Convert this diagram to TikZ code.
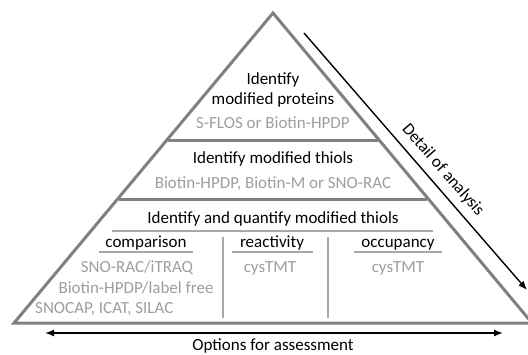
\documentclass[tikz,border=0pt]{standalone}
\usepackage{fontspec}
\setmainfont{Carlito}
\usepackage{xcolor}
\usetikzlibrary{arrows.meta,positioning,calc}
\definecolor{outlinegray}{HTML}{808080}
\definecolor{innergray}{HTML}{A8A8A8}
\definecolor{methodgray}{HTML}{9E9E9E}

\begin{document}
\begin{tikzpicture}[
    x=1pt,
    y=-1pt,
    >=Latex,
    level/.style={draw=outlinegray, line width=3pt},
    subline/.style={draw=innergray, line width=1.5pt},
    heading/.style={anchor=base, inner sep=0pt, text=black, font=\fontsize{17}{20}\selectfont},
    method/.style={anchor=base, inner sep=0pt, text=methodgray, font=\fontsize{17}{20}\selectfont},
    axis/.style={draw=black, line width=1.4pt, {Latex[length=9pt,width=7pt]}-{Latex[length=9pt,width=7pt]}}
]
\useasboundingbox (0,0) rectangle (528,354);
% pyramid and levels
\draw[level, line join=miter] (273,13) -- (14,323) -- (532,323) -- cycle;
\draw[level] (168,140) -- (378,140);
\draw[level] (119,199) -- (427,199);
% subdivisions of the bottom level
\draw[subline] (112,231) -- (433,231);
\draw[subline] (99,252) -- (193,252);
\draw[subline] (232,252) -- (313,252);
\draw[subline] (354,252) -- (442,252);
\draw[subline] (223,237) -- (223,318);
\draw[subline] (328,237) -- (328,318);
% top level
\node[heading] (proteinsa) at (273,84) {Identify};
\node[heading] (proteinsb) at (273,104) {modified proteins};
\node[method] (proteinsm) at (273,128) {S-FLOS or Biotin-HPDP};
% middle level
\node[heading] (thiols) at (273,163) {Identify modified thiols};
\node[method] (thiolsm) at (273,188) {Biotin-HPDP, Biotin-M or SNO-RAC};
% bottom level
\node[heading] (quantify) at (273,223) {Identify and quantify modified thiols};
\node[heading] (comparison) at (146,247) {comparison};
\node[heading] (reactivity) at (272,247) {reactivity};
\node[heading] (occupancy) at (398,247) {occupancy};
\node[method] (compa) at (137,272) {SNO-RAC/iTRAQ};
\node[method] (compb) at (136,293) {Biotin-HPDP/label free};
\node[method, anchor=base west] (compc) at (35,313) {SNOCAP, ICAT, SILAC};
\node[method] (react) at (270,272) {cysTMT};
\node[method] (occup) at (398,272) {cysTMT};
% axes
\coordinate (detailstart) at (304,33);
\coordinate (detailend) at (527,290);
\draw[draw=black, line width=1.4pt, -{Latex[length=9pt,width=7pt]}] (detailstart) -- (detailend);
\node[heading, anchor=center, rotate=-49] (detail) at (443,170) {Detail of analysis};
\coordinate (optleft) at (45,333);
\coordinate (optright) at (503,333);
\draw[axis] (optleft) -- (optright);
\node[heading] (options) at (273,350) {Options for assessment};
\end{tikzpicture}
\end{document}
